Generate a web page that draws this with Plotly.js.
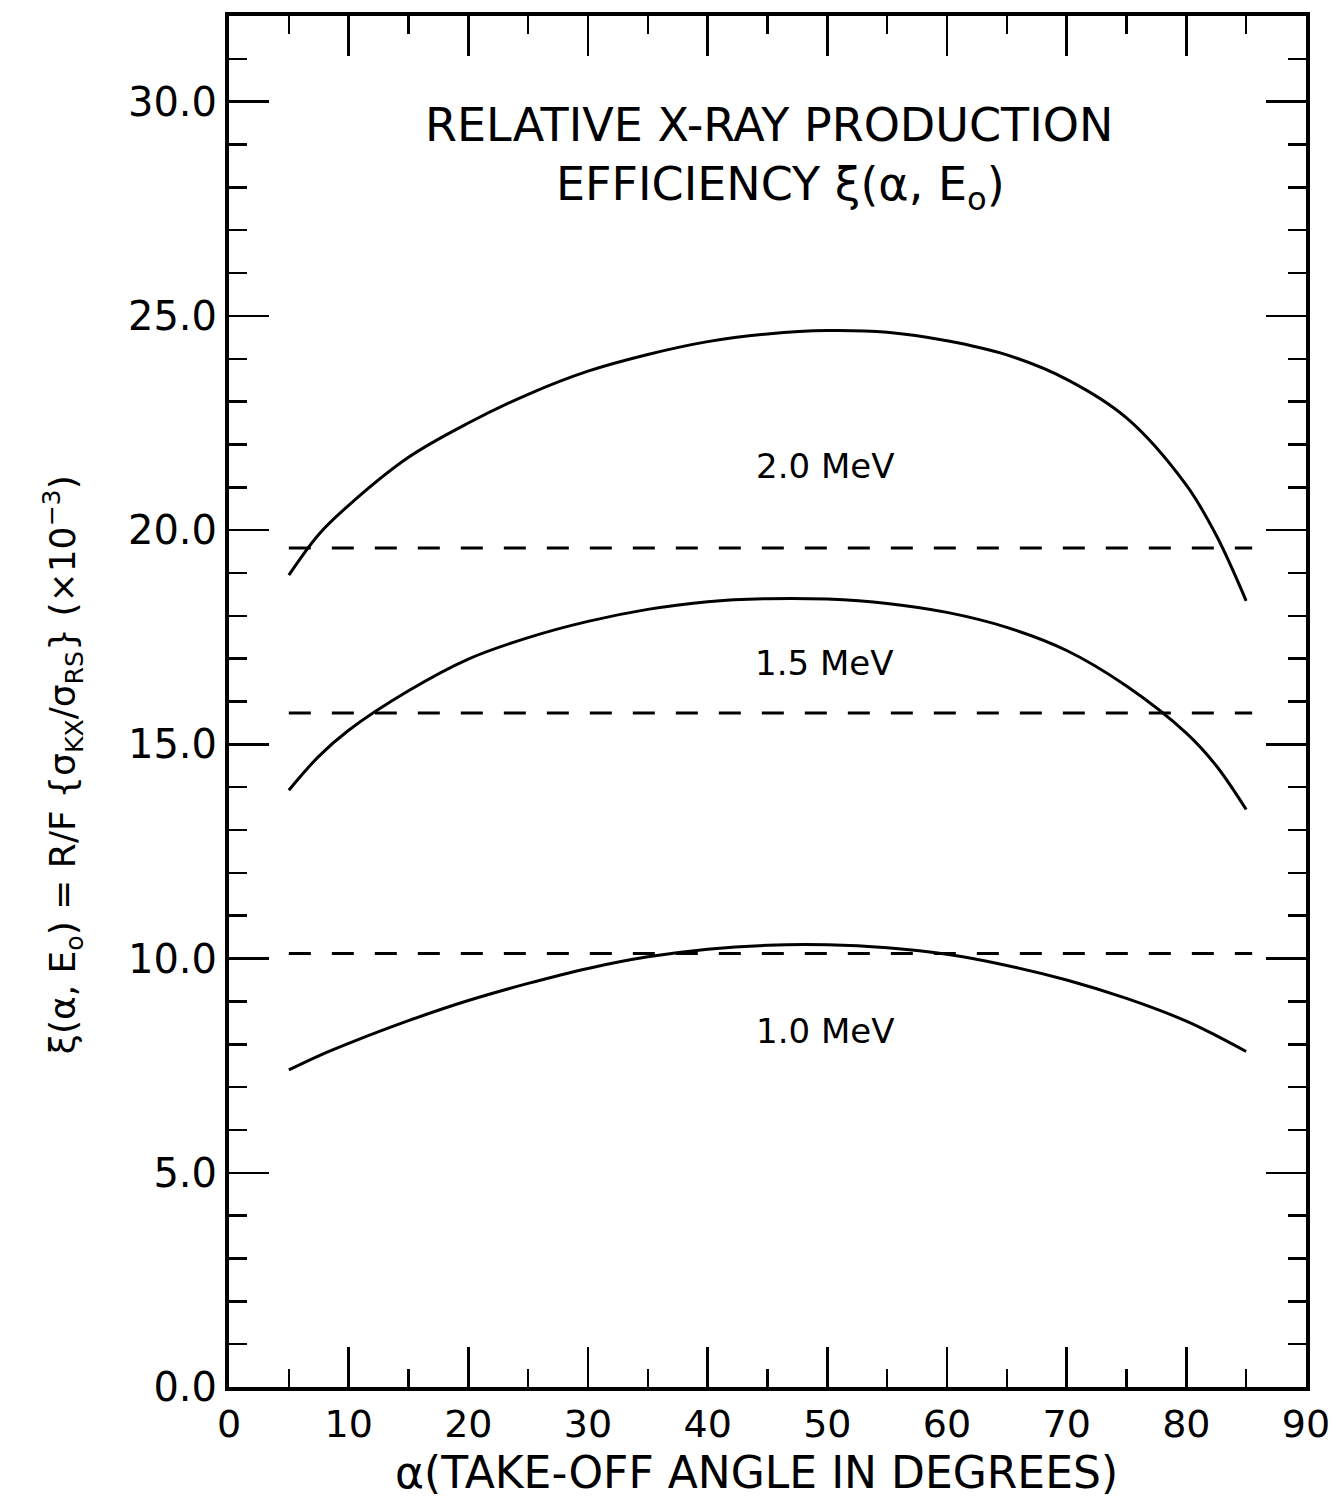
<!DOCTYPE html>
<html>
<head>
<meta charset="utf-8">
<script src="https://cdn.plot.ly/plotly-3.0.1.min.js"></script>
<style>html,body{margin:0;padding:0;background:#fff;}#chart{width:1337px;height:1501px;}</style>
</head>
<body>
<div id="chart"></div>
<script>
// Take-off angle (degrees)
const angle = [5, 7.5, 10, 15, 20, 25, 30, 35, 40, 45, 50, 55, 60, 65, 70, 75, 80, 82.5, 85];
// Relative X-ray production efficiency (x10^-3)
const eff20 = [18.95, 19.9, 20.58, 21.7, 22.5, 23.17, 23.71, 24.1, 24.4, 24.58, 24.66, 24.62, 24.42, 24.09, 23.52, 22.62, 21.05, 19.88, 18.35];
const eff15 = [13.93, 14.72, 15.33, 16.25, 16.99, 17.49, 17.87, 18.15, 18.33, 18.4, 18.39, 18.29, 18.08, 17.73, 17.19, 16.36, 15.26, 14.5, 13.48];
const eff10 = [7.4, 7.73, 8.02, 8.55, 9.02, 9.42, 9.77, 10.04, 10.22, 10.31, 10.32, 10.25, 10.1, 9.84, 9.5, 9.07, 8.54, 8.2, 7.83];
// Reference (dashed) levels
const refX = [5, 85.5];
const ref20 = 19.58;
const ref15 = 15.73;
const ref10 = 10.12;
const energyLabels = ["2.0 MeV", "1.5 MeV", "1.0 MeV"];
const labelPos = [[49.8, 21.5], [49.7, 16.9], [49.8, 8.3]];

const FONT = "DejaVu Sans, Liberation Sans, sans-serif";
const solid = {color: "#000", width: 3, shape: "spline", smoothing: 1.0};
const dashed = {color: "#000", width: 3, dash: "22px,21px"};

const traces = [
  {x: angle, y: eff20, mode: "lines", line: solid},
  {x: angle, y: eff15, mode: "lines", line: solid},
  {x: angle, y: eff10, mode: "lines", line: solid},
  {x: refX, y: [ref20, ref20], mode: "lines", line: dashed},
  {x: refX, y: [ref15, ref15], mode: "lines", line: dashed},
  {x: refX, y: [ref10, ref10], mode: "lines", line: dashed}
];

const plotTop = 16, plotBottom = 1387;
const pyToPaper = py => (plotBottom - py) / (plotBottom - plotTop);

const annotations = energyLabels.map((t, i) => ({
  x: labelPos[i][0], y: labelPos[i][1], xref: "x", yref: "y", text: t,
  showarrow: false, font: {family: FONT, size: 34, color: "#000"}
}));
annotations.push(
  {x: 45.1, y: pyToPaper(125), xref: "x", yref: "paper", yanchor: "middle", text: "RELATIVE X-RAY PRODUCTION",
   showarrow: false, font: {family: FONT, size: 46, color: "#000"}},
  {x: 46.1, y: pyToPaper(187), xref: "x", yref: "paper", yanchor: "middle", text: "EFFICIENCY ξ(α, E<sub>o</sub>)",
   showarrow: false, font: {family: FONT, size: 46, color: "#000"}},
  {x: -0.18, y: pyToPaper(765), xref: "paper", yref: "paper", textangle: -90,
   text: "ξ(α, E<sub>o</sub>) = R/F {σ<sub>KX</sub>/σ<sub>RS</sub>} (×10<sup>−3</sup>)",
   showarrow: false, font: {family: FONT, size: 36, color: "#000"}},
  {x: 44.1, y: pyToPaper(1472), xref: "x", yref: "paper", yanchor: "middle", text: "α(TAKE-OFF ANGLE IN DEGREES)",
   showarrow: false, font: {family: FONT, size: 44, color: "#000"}}
);

const layout = {
  width: 1337, height: 1501,
  margin: {l: 229, r: 31, t: 16, b: 114},
  paper_bgcolor: "#fff", plot_bgcolor: "#fff",
  showlegend: false,
  font: {family: FONT, color: "#000"},
  xaxis: {
    range: [0, 90], tick0: 0, dtick: 10, ticks: "inside", ticklen: 40, tickwidth: 2.5, tickcolor: "#000",
    minor: {dtick: 5, ticks: "inside", ticklen: 18, tickwidth: 2.5, tickcolor: "#000"},
    showline: true, linewidth: 4, linecolor: "#000", mirror: "ticks",
    showgrid: false, zeroline: false,
    tickfont: {family: FONT, size: 38, color: "#000"}
  },
  yaxis: {
    range: [0, 32], tick0: 0, dtick: 5, ticks: "inside", ticklen: 40, tickwidth: 2.5, tickcolor: "#000",
    minor: {dtick: 1, ticks: "inside", ticklen: 18, tickwidth: 2.5, tickcolor: "#000"},
    tickformat: ".1f",
    showline: true, linewidth: 4, linecolor: "#000", mirror: "ticks",
    showgrid: false, zeroline: false,
    tickfont: {family: FONT, size: 40, color: "#000"}
  },
  annotations: annotations
};

Plotly.newPlot("chart", traces, layout, {staticPlot: true, displayModeBar: false});
</script>
</body>
</html>
